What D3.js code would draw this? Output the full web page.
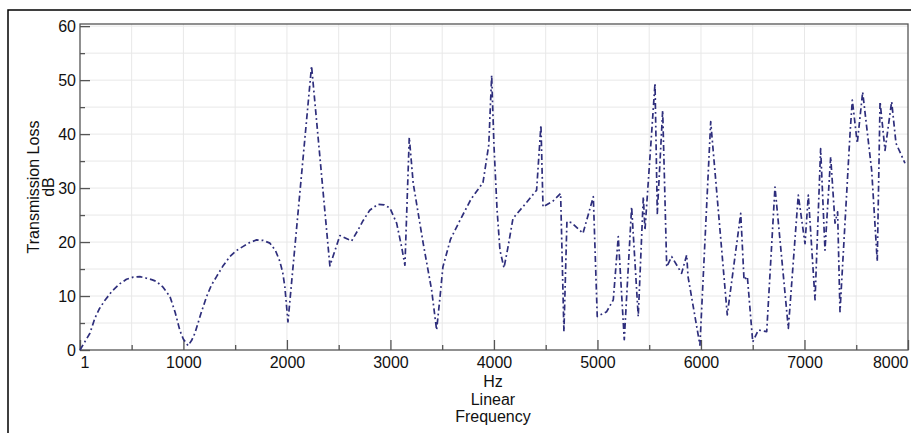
<!DOCTYPE html>
<html>
<head>
<meta charset="utf-8">
<script src="https://cdn.jsdelivr.net/npm/d3@7"></script>
<style>
  body { margin: 0; background: #fff; }
  svg { display: block; font-family: "Liberation Sans", Arial, sans-serif; }
</style>
</head>
<body>
<svg id="tl_chart"></svg>
<script>
// frequency (Hz) and transmission loss (dB)
var freq = [1, 50, 97, 145, 190, 242, 310, 387, 450, 515, 580, 644, 700, 740, 800, 870, 920, 966, 1000, 1045, 1080, 1111, 1170, 1224,
  1270, 1320, 1380, 1449, 1510, 1578, 1640, 1707, 1770, 1836, 1890, 1932, 1960, 1980, 2010,
  2238, 2415, 2512, 2625, 2680, 2737, 2800, 2880, 2940, 2995, 3060, 3108, 3140, 3182, 3220, 3317, 3398, 3446, 3480, 3507, 3580, 3671,
  3780, 3894, 3950, 3978,
  4000, 4030, 4058, 4097, 4136, 4184, 4300, 4412, 4454, 4474, 4570, 4644, 4676, 4705, 4750, 4860, 4960, 4998, 5089, 5153, 5201, 5259,
  5330, 5394, 5443, 5459, 5556, 5578, 5630, 5669, 5717, 5813, 5862, 5875, 5990, 6094, 6254, 6384, 6416, 6448, 6500, 6554, 6635, 6715,
  6844, 6940, 7005, 7037, 7102, 7156, 7198, 7253, 7295, 7320, 7343, 7440, 7462, 7510, 7562, 7649, 7703, 7730, 7778, 7842, 7884, 7971];
var loss = [0, 1.6, 3.1, 5.9, 7.7, 9.2, 10.9, 12.3, 13.1, 13.5, 13.6, 13.3, 13, 12.7, 11.7, 9.9, 7, 3.6, 2, 0.8, 1.8, 3.1, 6.8, 9.9,
  12, 13.6, 15.5, 17.3, 18.4, 19.2, 19.9, 20.4, 20.3, 19.8, 18.4, 16.4, 14.3, 11.7, 5.2,
  52.6, 15.6, 21.2, 20.2, 22, 24, 25.9, 27, 26.9, 26.3, 23.5, 19.1, 15.7, 39.4, 30.9, 19.7, 11.1, 3.7, 10, 15.4, 20.5, 24,
  28, 31, 38, 50.9,
  38, 26, 18.5, 15.2, 19.1, 24.4, 27, 29.6, 41.7, 26.5, 27.6, 29, 3.4, 23.8, 23.6, 21.6, 28.4, 6.2, 7.1, 9.3, 21, 1.9,
  26.5, 6.2, 28.4, 22.2, 49.4, 25.3, 44.4, 15.4, 17.3, 14.2, 17.6, 13.6, 0.9, 42.3, 6.5, 25.3, 13, 13.6, 1.5, 3.7, 3.4, 30.2,
  4, 28.7, 19.7, 28.7, 9.3, 37.3, 18.5, 35.8, 23.5, 25.6, 7.1, 40.1, 46.3, 38.3, 47.8, 33.3, 16.4, 46, 37, 46, 38.3, 34.6];

// tick labels
var x_ticks = [1, 1000, 2000, 3000, 4000, 5000, 6000, 7000, 8000];
var x_minor = [500, 1500, 2500, 3500, 4500, 5500, 6500, 7500];
var y_ticks = [0, 10, 20, 30, 40, 50, 60];
var y_minor = [5, 15, 25, 35, 45, 55];
var x_titles = ["Hz", "Linear", "Frequency"];
var y_titles = ["Transmission Loss", "dB"];

var data = freq.map(function(f, i) { return {f: f, db: loss[i]}; });

var W = 911, H = 433;
var margin = {top: 24, right: 3, bottom: 83, left: 80},
  width = W - margin.left - margin.right,
  height = H - margin.top - margin.bottom;

var svg = d3.select("#tl_chart")
  .attr("width", W)
  .attr("height", H);

// outer frame (top and left edges only show)
svg.append("path")
  .attr("d", "M8," + H + "V10H" + W)
  .attr("fill", "none")
  .attr("stroke", "#000")
  .attr("stroke-width", 1.5);

var g = svg.append("g")
  .attr("transform", "translate(" + margin.left + "," + margin.top + ")");

var x = d3.scaleLinear().domain([1, 8000]).range([0, width]);
var y = d3.scaleLinear().domain([0, 60.4]).range([height, 0]);

// grid every 500 Hz / 5 dB
var grid_x = x_ticks.concat(x_minor).filter(function(d) { return d > 1 && d < 8000; });
var grid_y = y_ticks.concat(y_minor).filter(function(d) { return d > 0; });

g.append("g").selectAll("line")
  .data(grid_x)
  .enter().append("line")
  .attr("x1", d => x(d)).attr("x2", d => x(d))
  .attr("y1", 0).attr("y2", height)
  .attr("stroke", "#e8e8e8");

g.append("g").selectAll("line")
  .data(grid_y)
  .enter().append("line")
  .attr("y1", d => y(d)).attr("y2", d => y(d))
  .attr("x1", 0).attr("x2", width)
  .attr("stroke", "#e8e8e8");

// axes, ticks pointing inward
var xAxis = g.append("g")
  .attr("class", "xAxis")
  .attr("transform", "translate(0," + height + ")")
  .call(d3.axisBottom(x).tickValues(x_ticks).tickSize(-10).tickPadding(7).tickFormat(d3.format("d")));

g.append("g")
  .attr("transform", "translate(0," + height + ")")
  .call(d3.axisBottom(x).tickValues(x_minor).tickSize(-5).tickFormat(""));

var yAxis = g.append("g")
  .attr("class", "yAxis")
  .call(d3.axisLeft(y).tickValues(y_ticks).tickSize(-10).tickPadding(4));

g.append("g")
  .call(d3.axisLeft(y).tickValues(y_minor).tickSize(-5).tickFormat(""));

g.selectAll(".domain").remove();
g.selectAll(".tick line").attr("stroke", "#555").attr("stroke-width", 1.3);
g.selectAll(".tick text")
  .attr("font-size", "16px")
  .attr("fill", "#111")
  .attr("font-family", "Liberation Sans, Arial, sans-serif");

// first and last x labels hug the ends of the axis
xAxis.selectAll(".tick text")
  .attr("text-anchor", d => d === 1 ? "start" : (d === 8000 ? "end" : "middle"));

// plot box
g.append("rect")
  .attr("width", width)
  .attr("height", height)
  .attr("fill", "none")
  .attr("stroke", "#555")
  .attr("stroke-width", 1.3);

// the curve
var line = d3.line()
  .x(d => x(d.f))
  .y(d => y(d.db));

g.append("path")
  .datum(data)
  .attr("d", line)
  .attr("fill", "none")
  .attr("stroke", "#2e2e7c")
  .attr("stroke-width", 1.7)
  .attr("stroke-linejoin", "round")
  .attr("stroke-dasharray", "6,3,1.8,3");

// axis titles
svg.append("g").selectAll("text")
  .data(x_titles)
  .enter().append("text")
  .attr("x", margin.left + x(4000) - 1)
  .attr("y", (d, i) => 387 + i * 17.7)
  .attr("text-anchor", "middle")
  .attr("font-size", "16px")
  .attr("fill", "#111")
  .text(d => d);

svg.append("g").selectAll("text")
  .data(y_titles)
  .enter().append("text")
  .attr("transform", (d, i) => "translate(" + (39 + i * 14.5) + ",187) rotate(-90)")
  .attr("text-anchor", "middle")
  .attr("font-size", "16px")
  .attr("fill", "#111")
  .text(d => d);
</script>
</body>
</html>
